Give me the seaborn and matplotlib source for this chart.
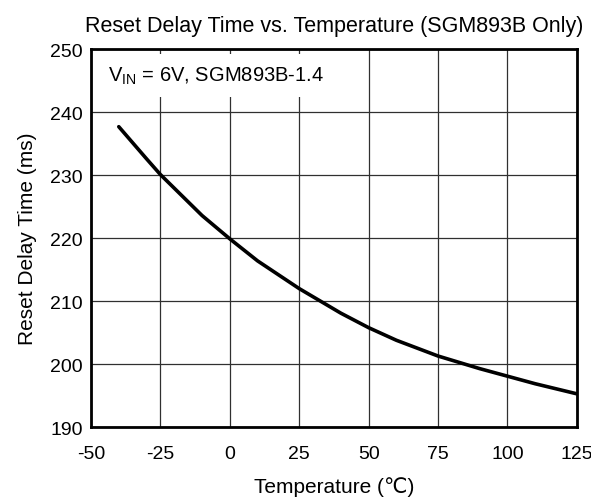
import numpy as np
import pandas as pd
import matplotlib
matplotlib.use("Agg")
import matplotlib.pyplot as plt
import seaborn as sns

# Values
temperature = [-40, -30, -25, -10, 0, 10, 25, 40, 50, 60, 75, 90, 100, 110, 125]
delay_ms = [237.7, 232.6, 230.1, 223.6, 219.9, 216.4, 212.0, 208.1, 205.8,
            203.8, 201.3, 199.3, 198.1, 196.9, 195.3]

x_ticks = [-50, -25, 0, 25, 50, 75, 100, 125]
y_ticks = [190, 200, 210, 220, 230, 240, 250]

df = pd.DataFrame({"temp": temperature, "delay": delay_ms})

sns.set_style("white")
plt.rcParams['font.family'] = ['Liberation Sans', 'DejaVu Sans']
plt.rcParams['axes.unicode_minus'] = False
plt.rcParams['text.color'] = 'black'
plt.rcParams['axes.labelcolor'] = 'black'
plt.rcParams['xtick.color'] = 'black'
plt.rcParams['ytick.color'] = 'black'

fig = plt.figure(figsize=(5.91, 5.02), dpi=100)
ax = fig.add_axes([0.154, 0.147, 0.822, 0.753])

sns.lineplot(data=df, x="temp", y="delay", color="black", linewidth=2.6, ax=ax)

ax.set_xlim(-50, 125)
ax.set_ylim(190, 250)
ax.set_xticks(x_ticks)
ax.set_yticks(y_ticks)
ax.grid(True, color="#303030", linewidth=0.9)
ax.set_axisbelow(True)
for s in ax.spines.values():
    s.set_color("black")
    s.set_linewidth(2)
ax.tick_params(axis="both", labelsize=14, length=0)
ax.tick_params(axis="x", pad=13)
ax.tick_params(axis="y", pad=6)

ax.set_xlabel("Temperature (\u2103)", fontsize=15, labelpad=10)
ax.set_ylabel("Reset Delay Time (ms)", fontsize=15, labelpad=9)
ax.set_title("Reset Delay Time vs. Temperature (SGM893B Only)", fontsize=15.5, pad=13)

ax.text(0.035, 0.93, "V$_{\\mathregular{IN}}$ = 6V, SGM893B-1.4", transform=ax.transAxes,
        fontsize=14.5, va="center", ha="left",
        bbox=dict(facecolor="white", edgecolor="none", pad=8))

fig.savefig("out.png", dpi=100)
